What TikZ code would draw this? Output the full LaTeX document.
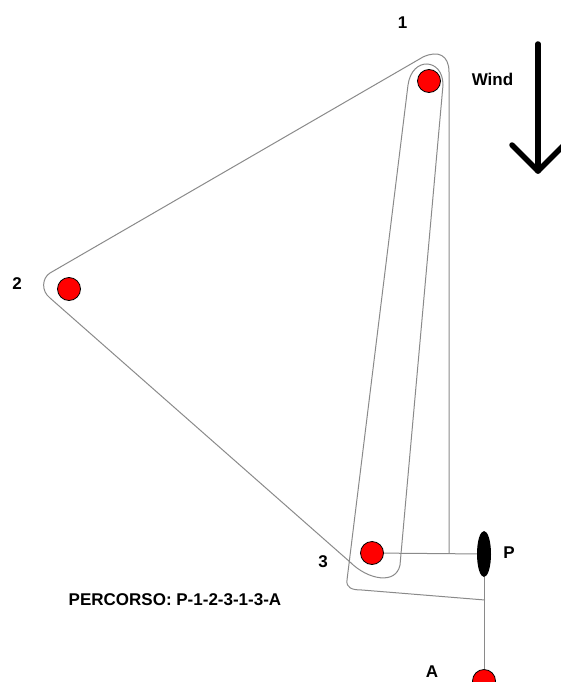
\documentclass[tikz,border=0pt]{standalone}
\usepackage{fontspec}
\setmainfont{Liberation Sans}
\usepackage{tikz}
\usetikzlibrary{shapes.geometric}
\definecolor{buoy_red}{HTML}{FF0000}
\definecolor{course_grey}{HTML}{8A8A8A}
\tikzset{
  buoy/.style={circle, draw=black, fill=buoy_red, line width=0.8pt, minimum size=23pt, inner sep=0pt},
  lbl/.style={font=\bfseries\fontsize{17}{20}\selectfont, inner sep=0pt},
  course/.style={course_grey, line width=1pt},
}

\begin{document}
\begin{tikzpicture}[x=1pt, y=-1pt]
            \clip (0,0) rectangle (561,682);

            \node[buoy] (b1) at (429, 81) {};
            \node[buoy] (b2) at (69, 289) {};
            \node[buoy] (b3) at (372, 553) {};
            \node[buoy] (bA) at (484, 681) {};
            \node[ellipse, fill=black, minimum width=14pt, minimum height=46pt, inner sep=0pt] (P) at (484, 554) {};

            \node[lbl] (l1) at (402.5, 23) {1};
            \node[lbl] (l2) at (17, 284) {2};
            \node[lbl] (l3) at (323, 562) {3};
            \node[lbl] (lP) at (509, 553) {P};
            \node[lbl] (lA) at (432, 672) {A};
            \node[lbl] (wind) at (492.5, 79) {Wind};
            \node[lbl] (route) at (175, 600) {PERCORSO: P-1-2-3-1-3-A};

            % start line and finish
            \draw[course] (b3) -- (P);
            \draw[course] (P) -- (bA);

            % course
            \draw[course] (449, 553) -- (449, 72)
                .. controls (449, 55) and (438, 50) .. (423, 57)
                -- (50, 273) .. controls (42, 278) and (41, 291) .. (50, 298)
                -- (350, 562) .. controls (368, 580) and (396, 585) .. (400, 565)
                -- (443, 85) .. controls (443, 58) and (412, 56) .. (408, 85)
                -- (347, 580) .. controls (346, 588) and (352, 590) .. (362, 590)
                -- (485, 600);

            % wind
            \coordinate (windtop) at (538, 44);
            \coordinate (windtip) at (538, 171);
            \coordinate (windl) at (512, 145);
            \coordinate (windr) at (564, 145);
            \draw[line width=5.5pt, line cap=round, line join=round] (windtop) -- (windtip);
            \draw[line width=5.5pt, line cap=round, line join=round] (windl) -- (windtip) -- (windr);

\end{tikzpicture}
\end{document}
